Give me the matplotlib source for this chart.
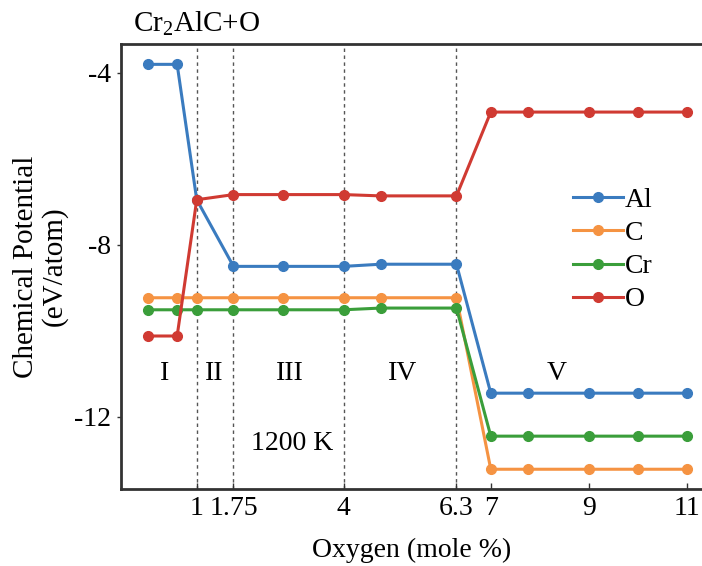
import matplotlib
matplotlib.use("Agg")
import matplotlib.pyplot as plt

plt.rcParams['font.family'] = ['Liberation Serif', 'DejaVu Serif']
plt.rcParams['mathtext.fontset'] = 'custom'
plt.rcParams['mathtext.rm'] = 'Liberation Serif'

oxygen = [0, 0.6, 1, 1.75, 2.75, 4, 4.75, 6.3, 7, 7.75, 9, 10, 11]
mu_al = [-3.8, -3.8, -6.95, -8.5, -8.5, -8.5, -8.45, -8.45, -11.45, -11.45, -11.45, -11.45, -11.45]
mu_c = [-9.23, -9.23, -9.23, -9.23, -9.23, -9.23, -9.23, -9.23, -13.22, -13.22, -13.22, -13.22, -13.22]
mu_cr = [-9.51, -9.51, -9.51, -9.51, -9.51, -9.51, -9.47, -9.47, -12.45, -12.45, -12.45, -12.45, -12.45]
mu_o = [-10.12, -10.12, -6.95, -6.83, -6.83, -6.83, -6.86, -6.86, -4.91, -4.91, -4.91, -4.91, -4.91]

series = [("Al", mu_al, "#3a7bbf"), ("C", mu_c, "#f59342"),
          ("Cr", mu_cr, "#3a9e3a"), ("O", mu_o, "#d03a32")]

boundaries = [1, 1.75, 4, 6.3]
xticks = [1, 1.75, 4, 6.3, 7, 9, 11]
xticklabels = ["1", "1.75", "4", "6.3", "7", "9", "11"]
yticks = [-4, -8, -12]
regions = [("I", 0.35), ("II", 1.35), ("III", 2.9), ("IV", 5.2), ("V", 8.35)]

FS = 20

fig = plt.figure(figsize=(7.02, 5.66), dpi=100)
ax = fig.add_axes([0.1724, 0.136, 0.8276, 0.786])

for b in boundaries:
    ax.axvline(b, color="#555555", linestyle=(0, (2.5, 2.5)), linewidth=1.0, zorder=1)

for name, vals, col in series:
    ax.plot(oxygen, vals, color=col, linewidth=2.2, marker="o", markersize=7,
            label=name, zorder=3)

ax.set_xlim(-0.545, 11.31)
ax.set_ylim(-13.68, -3.33)
ax.set_xticks(xticks)
ax.set_xticklabels(xticklabels)
ax.set_yticks(yticks)
ax.set_yticklabels([str(t) for t in yticks])
ax.tick_params(axis='x', direction='in', length=4, width=1, labelsize=FS, pad=5, color="#333333")
ax.tick_params(axis='y', direction='out', length=3, width=1, labelsize=FS, pad=4, color="#333333")

for s in ["top", "bottom", "left"]:
    ax.spines[s].set_linewidth(2)
    ax.spines[s].set_color("#333333")
ax.spines["right"].set_visible(False)

ax.set_xlabel("Oxygen (mole %)", fontsize=FS, labelpad=12)
ax.set_ylabel("Chemical Potential\n(eV/atom)", fontsize=21, labelpad=5, linespacing=1.05)

for lab, xv in regions:
    ax.text(xv, -11.0, lab, fontsize=FS, ha="center", va="center")
ax.text(2.95, -12.62, "1200 K", fontsize=FS, ha="center", va="center")

fig.text(0.19, 0.959, "Cr$_2$AlC+O", fontsize=21, ha="left", va="center")

leg = ax.legend(loc="upper left", bbox_to_anchor=(0.759, 0.703), frameon=False,
                fontsize=FS, handlelength=1.8, handletextpad=0.05,
                labelspacing=0.28, borderaxespad=0)

fig.savefig("out.png", dpi=100)
